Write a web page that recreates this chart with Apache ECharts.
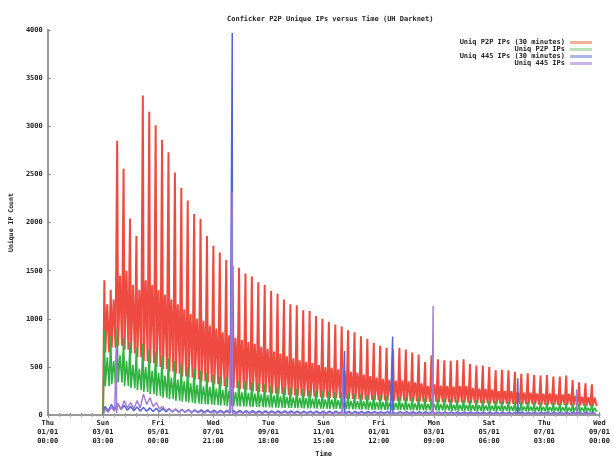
<!DOCTYPE html>
<html>
<head>
<meta charset="utf-8">
<script src="https://cdn.jsdelivr.net/npm/echarts@6/dist/echarts.min.js"></script>
<style>
  html, body { margin: 0; padding: 0; background: #fff; }
  #chart { width: 613px; height: 463px; }
</style>
</head>
<body>
<div id="chart"></div>
<script>
// x axis is in days since the first tick; one spike per day
const TICK_STEP = 8.6
const FIRST_DAY = 8.82

const tickLabels = [
  'Thu\n01/01\n00:00', 'Sun\n03/01\n03:00', 'Fri\n05/01\n00:00', 'Wed\n07/01\n21:00',
  'Tue\n09/01\n18:00', 'Sun\n11/01\n15:00', 'Fri\n01/01\n12:00', 'Mon\n03/01\n09:00',
  'Sat\n05/01\n06:00', 'Thu\n07/01\n03:00', 'Wed\n09/01\n00:00'
]

const seriesNames = ['Uniq P2P IPs (30 minutes)', 'Uniq P2P IPs', 'Uniq 445 IPs (30 minutes)', 'Uniq 445 IPs']

// Uniq P2P IPs (30 minutes): daily peak, secondary bump, trough
const p2pPeak30 = [1400, 1300, 2850, 2560, 2040, 1860, 3320, 3150, 3010, 2860, 2730, 2520, 2360, 2230, 2090, 2040,
  1860, 1760, 1690, 1610, 1550, 1530, 1470, 1440, 1380, 1350, 1290, 1260,
  1200, 1150, 1140, 1090, 1080, 1030, 1000, 970, 940, 920, 880, 860, 820, 790, 750, 720, 700, 680, 700, 680,
  650, 630, 550, 620, 580, 570, 565, 570, 580, 530, 515, 515, 500, 465, 470, 465, 450, 430, 435, 415,
  410, 415, 400, 400, 410, 365, 340, 330, 320]
const p2pMid30 = [1150, 1200, 1450, 1500, 1350, 1300, 1400, 1350, 1300, 1250, 1200, 1150, 1100, 1050, 1000, 980,
  930, 900, 860, 830, 800, 780, 760, 740, 710, 690, 660, 640,
  610, 590, 570, 550, 540, 520, 500, 490, 475, 465, 450, 440, 420, 405, 390, 375, 365, 355, 360, 350,
  340, 330, 300, 320, 305, 300, 295, 300, 300, 280, 275, 270, 265, 250, 252, 248, 240, 232, 234, 225,
  222, 224, 216, 215, 220, 200, 190, 185, 180]
const p2pLow30 = [650, 700, 720, 680, 640, 600, 560, 540, 500, 480, 450, 430, 400, 390, 370, 350,
  340, 320, 300, 290, 280, 270, 260, 250, 240, 235, 225, 220,
  210, 205, 200, 195, 190, 185, 180, 178, 175, 170, 168, 165, 160, 158, 155, 152, 150, 148, 150, 146,
  142, 140, 138, 136, 134, 132, 130, 130, 128, 126, 124, 122, 120, 118, 118, 116, 114, 112, 112, 110,
  108, 108, 106, 105, 104, 102, 100, 98, 96]

// Uniq P2P IPs
const p2pPeak = [880, 820, 900, 800, 760, 700, 740, 690, 660, 620, 590, 560, 530, 500, 480, 460,
  440, 420, 400, 390, 370, 360, 350, 340, 330, 320, 310, 300,
  290, 282, 276, 270, 262, 255, 250, 246, 240, 232, 228, 222, 218, 212, 208, 205, 200, 196, 192, 188,
  185, 182, 178, 175, 172, 168, 165, 162, 160, 158, 155, 152, 150, 148, 145, 142, 140, 138, 135, 132,
  130, 128, 126, 124, 122, 120, 118, 116, 114]
const p2pMid = [600, 560, 620, 560, 520, 480, 500, 460, 440, 410, 390, 370, 350, 330, 315, 300,
  290, 275, 262, 255, 242, 235, 228, 222, 215, 208, 202, 195,
  188, 183, 180, 175, 170, 166, 162, 160, 156, 151, 148, 144, 142, 138, 135, 133, 130, 127, 125, 122,
  120, 118, 116, 114, 112, 109, 107, 105, 104, 103, 101, 99, 98, 96, 94, 92, 91, 90, 88, 86,
  85, 83, 82, 81, 79, 78, 77, 75, 74]
const p2pLow = [300, 320, 340, 300, 280, 260, 240, 220, 200, 180, 165, 150, 140, 130, 120, 115,
  110, 105, 100, 95, 92, 90, 88, 85, 82, 80, 78, 76,
  75, 74, 72, 70, 70, 68, 66, 65, 64, 62, 60, 60, 58, 57, 56, 55, 54, 53, 52, 52,
  50, 50, 49, 48, 48, 47, 46, 46, 45, 45, 44, 44, 43, 42, 42, 41, 40, 40, 40, 39,
  38, 38, 37, 37, 36, 36, 35, 35, 34]

// Uniq 445 IPs (30 minutes) / Uniq 445 IPs: daily level near the floor
const ip445Daily30 = [90, 110, 120, 100, 90, 85, 80, 75, 70, 68, 65, 62, 60, 58, 56, 55,
  54, 52, 50, 50, 48, 48, 47, 46, 45, 45, 44, 44,
  43, 43, 42, 42, 41, 41, 40, 40, 40, 39, 39, 38, 38, 38, 37, 37, 37, 36, 36, 36,
  35, 35, 35, 35, 34, 34, 34, 33, 33, 33, 33, 32, 32, 32, 32, 31, 31, 31, 31, 30,
  30, 30, 30, 30, 29, 29, 29, 29, 28]
const ip445Daily = [60, 80, 120, 150, 130, 150, 220, 180, 130, 90, 70, 60, 55, 50, 45, 42,
  40, 38, 36, 35, 34, 33, 33, 32, 32, 31, 31, 30,
  30, 30, 29, 29, 29, 28, 28, 28, 27, 27, 27, 26, 26, 26, 26, 25, 25, 25, 25, 24,
  24, 24, 24, 23, 23, 23, 23, 22, 22, 22, 22, 22, 21, 21, 21, 21, 21, 20, 20, 20,
  20, 20, 19, 19, 19, 19, 19, 18, 18]

// isolated spikes [day, count]
const ip445Spikes30 = [[28.76, 3970], [46.26, 666], [53.76, 817], [73.27, 382]]
const ip445Spikes = [[10.7, 710], [28.76, 2320], [45.95, 500], [60.07, 1136], [82.43, 265]]

function buildDaily(peaks, mids, lows) {
  const pts = [[FIRST_DAY - 0.2, 0]]
  for (let k = 0; k < peaks.length; k++) {
    const d = FIRST_DAY + k
    pts.push([d, peaks[k]], [d + 0.15, lows[k]], [d + 0.45, mids[k]], [d + 0.75, lows[k]])
  }
  return pts
}

function buildFloor(daily, spikes) {
  const pts = [[FIRST_DAY - 0.2, 0]]
  for (let k = 0; k < daily.length; k++) {
    pts.push([FIRST_DAY + k + 0.1, daily[k]], [FIRST_DAY + k + 0.6, Math.round(daily[k] * 0.5)])
  }
  spikes.forEach(function(s) {
    pts.push([s[0] - 0.03, 20], [s[0], s[1]], [s[0] + 0.03, 20])
  })
  pts.sort(function(a, b) { return a[0] - b[0] })
  return pts
}

const lineColors = ['#ec2a1e', '#2fb340', '#5464d2', '#a07ad2']
const swatchColors = ['#f6b09a', '#b8e2b8', '#aab8ec', '#cbb6e8']
const monoFont = 'DejaVu Sans Mono'

const chart = echarts.init(document.getElementById('chart'))
chart.setOption({
  animation: false,
  backgroundColor: '#fff',
  title: {
    text: 'Conficker P2P Unique IPs versus Time (UH Darknet)',
    left: 222,
    top: 11,
    textStyle: { fontFamily: monoFont, fontSize: 7, fontWeight: 'bold', color: '#222' }
  },
  legend: {
    orient: 'vertical',
    align: 'right',
    right: 16,
    top: 34,
    itemGap: 0,
    itemWidth: 22,
    itemHeight: 3,
    icon: 'rect',
    textStyle: { fontFamily: monoFont, fontSize: 7, fontWeight: 'bold', color: '#222', lineHeight: 7 },
    data: seriesNames.map(function(n, i) {
      return { name: n, itemStyle: { color: swatchColors[i] } }
    })
  },
  grid: { left: 47, right: 12, top: 30, bottom: 35 },
  xAxis: [{
    type: 'value',
    min: 0,
    max: TICK_STEP * 10,
    interval: TICK_STEP,
    name: 'Time',
    nameLocation: 'middle',
    nameGap: 33,
    nameTextStyle: { fontFamily: monoFont, fontSize: 7, fontWeight: 'bold', color: '#222' },
    axisLine: { lineStyle: { color: '#888', width: 2 } },
    axisTick: { inside: true, length: 3, lineStyle: { color: '#888' } },
    minorTick: { show: true, splitNumber: 5, length: 2, lineStyle: { color: '#999' } },
    splitLine: { show: false },
    axisLabel: {
      margin: 4,
      fontFamily: monoFont, fontSize: 7, fontWeight: 'bold', color: '#222', lineHeight: 9,
      formatter: function(v) { return tickLabels[Math.round(v / TICK_STEP)] || '' }
    }
  }, {
    type: 'value',
    position: 'top',
    min: 0,
    max: TICK_STEP * 10,
    interval: TICK_STEP,
    axisLine: { show: true, lineStyle: { color: '#999', width: 2 } },
    axisTick: { inside: true, length: 3, lineStyle: { color: '#999' } },
    minorTick: { show: true, splitNumber: 5, length: 2, lineStyle: { color: '#aaa' } },
    splitLine: { show: false },
    axisLabel: { show: false }
  }],
  yAxis: [{
    type: 'value',
    min: 0,
    max: 4000,
    interval: 500,
    name: 'Unique IP Count',
    nameLocation: 'middle',
    nameGap: 30,
    nameTextStyle: { fontFamily: monoFont, fontSize: 6.5, fontWeight: 'bold', color: '#222' },
    axisLine: { show: true, lineStyle: { color: '#888', width: 2 } },
    axisTick: { show: true, inside: true, length: 3, lineStyle: { color: '#888' } },
    splitLine: { show: false },
    axisLabel: {
      margin: 5, fontFamily: monoFont, fontSize: 7, fontWeight: 'bold', color: '#222',
      formatter: function(v) { return String(v) }
    }
  }, {
    type: 'value',
    position: 'right',
    min: 0,
    max: 4000,
    interval: 500,
    axisLine: { show: true, lineStyle: { color: '#999', width: 2 } },
    axisTick: { show: false },
    splitLine: { show: false },
    axisLabel: { show: false }
  }],
  series: [
    {
      name: seriesNames[0], type: 'line', showSymbol: false, symbol: 'none',
      lineStyle: { color: lineColors[0], width: 2, opacity: 0.85 },
      itemStyle: { color: lineColors[0] },
      data: buildDaily(p2pPeak30, p2pMid30, p2pLow30)
    },
    {
      name: seriesNames[1], type: 'line', showSymbol: false, symbol: 'none',
      lineStyle: { color: lineColors[1], width: 1.6 },
      itemStyle: { color: lineColors[1] },
      data: buildDaily(p2pPeak, p2pMid, p2pLow)
    },
    {
      name: seriesNames[2], type: 'line', showSymbol: false, symbol: 'none',
      lineStyle: { color: lineColors[2], width: 1.5 },
      itemStyle: { color: lineColors[2] },
      data: buildFloor(ip445Daily30, ip445Spikes30)
    },
    {
      name: seriesNames[3], type: 'line', showSymbol: false, symbol: 'none',
      lineStyle: { color: lineColors[3], width: 1.4 },
      itemStyle: { color: lineColors[3] },
      data: buildFloor(ip445Daily, ip445Spikes)
    }
  ]
})
</script>
</body>
</html>
